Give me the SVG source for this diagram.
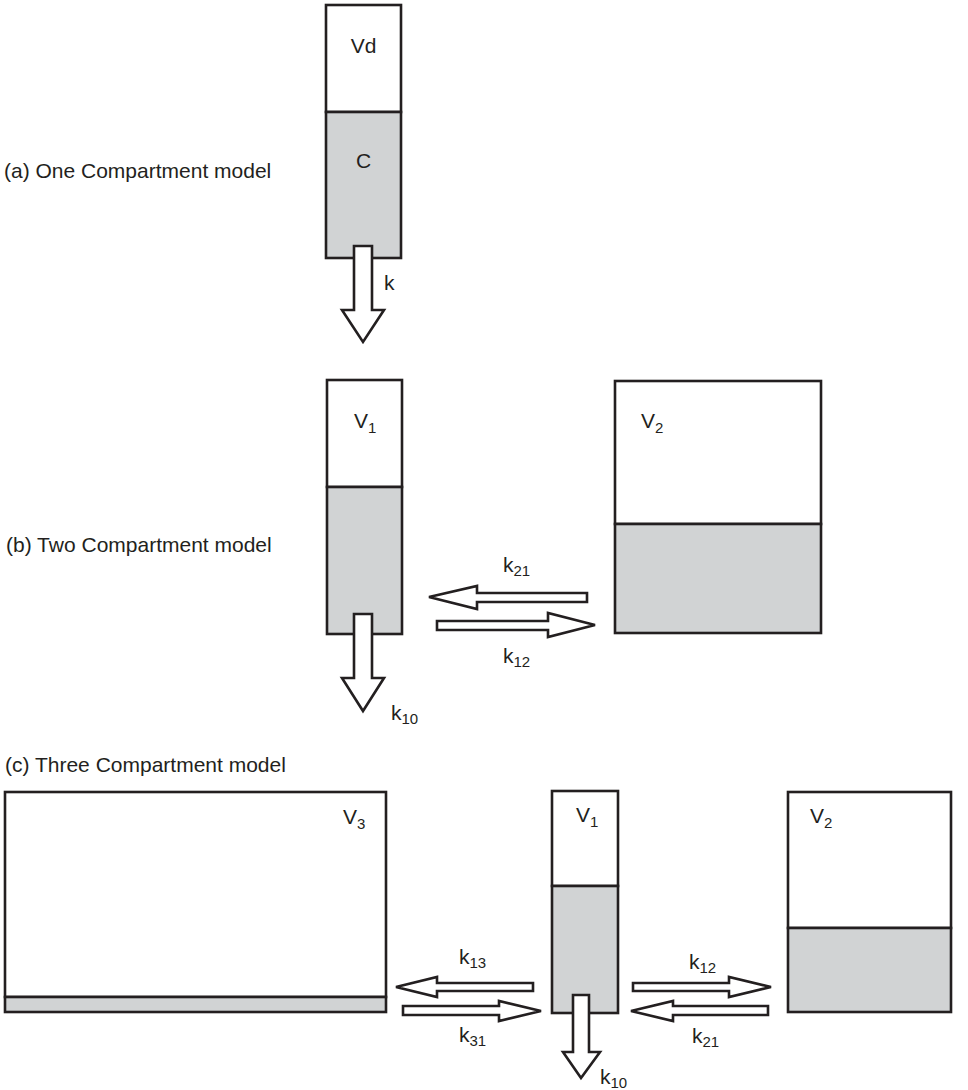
<svg xmlns="http://www.w3.org/2000/svg" width="968" height="1090" viewBox="0 0 968 1090">
<style>
.box{fill:#fff;stroke:#231f20;stroke-width:2.6}
.liq{fill:#d1d3d4;stroke:#231f20;stroke-width:2.6}
.arr{fill:#fff;stroke:#231f20;stroke-width:2.6;stroke-linejoin:miter}
text{font-family:"Liberation Sans",Arial,sans-serif;font-size:21px;fill:#231f20}
.sub{font-size:15px}
</style>
<rect width="968" height="1090" fill="#fff"/>
<text x="4" y="178">(a) One Compartment model</text>
<text x="6" y="552">(b) Two Compartment model</text>
<text x="5" y="772">(c) Three Compartment model</text>

<g id="a-comp">
<rect class="box" x="326" y="5" width="75" height="107"/>
<rect class="liq" x="326" y="112" width="75" height="146"/>
<text x="363.5" y="53" text-anchor="middle">Vd</text>
<text x="363.5" y="168" text-anchor="middle">C</text>
</g>

<g id="b-v1">
<rect class="box" x="327" y="380" width="75" height="107"/>
<rect class="liq" x="327" y="487" width="75" height="147"/>
<text x="354" y="428">V<tspan class="sub" dy="5">1</tspan></text>
</g>
<g id="b-v2">
<rect class="box" x="615" y="381" width="206" height="143"/>
<rect class="liq" x="615" y="524" width="206" height="109"/>
<text x="641" y="428">V<tspan class="sub" dy="5">2</tspan></text>
</g>

<g id="c-v3">
<rect class="box" x="5" y="792" width="381" height="205"/>
<rect class="liq" x="5" y="997" width="381" height="15"/>
<text x="343" y="824">V<tspan class="sub" dy="5">3</tspan></text>
</g>
<g id="c-v1">
<rect class="box" x="552" y="791" width="66" height="95"/>
<rect class="liq" x="552" y="886" width="66" height="127"/>
<text x="576" y="822">V<tspan class="sub" dy="5">1</tspan></text>
</g>
<g id="c-v2">
<rect class="box" x="788" y="792" width="163" height="136"/>
<rect class="liq" x="788" y="928" width="163" height="84"/>
<text x="810" y="823">V<tspan class="sub" dy="5">2</tspan></text>
</g>

<g id="connectors">
<polygon class="arr" points="354,246 372,246 372,310 384,310 363,342 342,310 354,310"/>
<text x="384" y="290">k</text>

<polygon class="arr" points="354,614 372,614 372,678 384,678 363,711 342,678 354,678"/>
<text x="391" y="720">k<tspan class="sub" dy="4">10</tspan></text>

<polygon class="arr" points="587,593 587,602 477,602 477,609 429,597 477,586 477,593"/>
<text x="503" y="572">k<tspan class="sub" dy="4">21</tspan></text>
<polygon class="arr" points="437,621 548,621 548,613 595,625 548,637 548,630 437,630"/>
<text x="503" y="663">k<tspan class="sub" dy="4">12</tspan></text>

<polygon class="arr" points="573,995 589,995 589,1052 600,1052 581,1078 563,1052 573,1052"/>
<text x="600" y="1084">k<tspan class="sub" dy="4">10</tspan></text>

<polygon class="arr" points="533,983 533,991 437,991 437,997 396,987 437,977 437,983"/>
<text x="459" y="964">k<tspan class="sub" dy="4">13</tspan></text>
<polygon class="arr" points="403,1006 499,1006 499,1001 541,1011 499,1021 499,1015 403,1015"/>
<text x="459" y="1042">k<tspan class="sub" dy="4">31</tspan></text>

<polygon class="arr" points="633,983 729,983 729,977 771,987 729,997 729,991 633,991"/>
<text x="689" y="969">k<tspan class="sub" dy="4">12</tspan></text>
<polygon class="arr" points="768,1006 768,1015 673,1015 673,1021 631,1011 673,1001 673,1006"/>
<text x="692" y="1043">k<tspan class="sub" dy="4">21</tspan></text>
</g>
</svg>
